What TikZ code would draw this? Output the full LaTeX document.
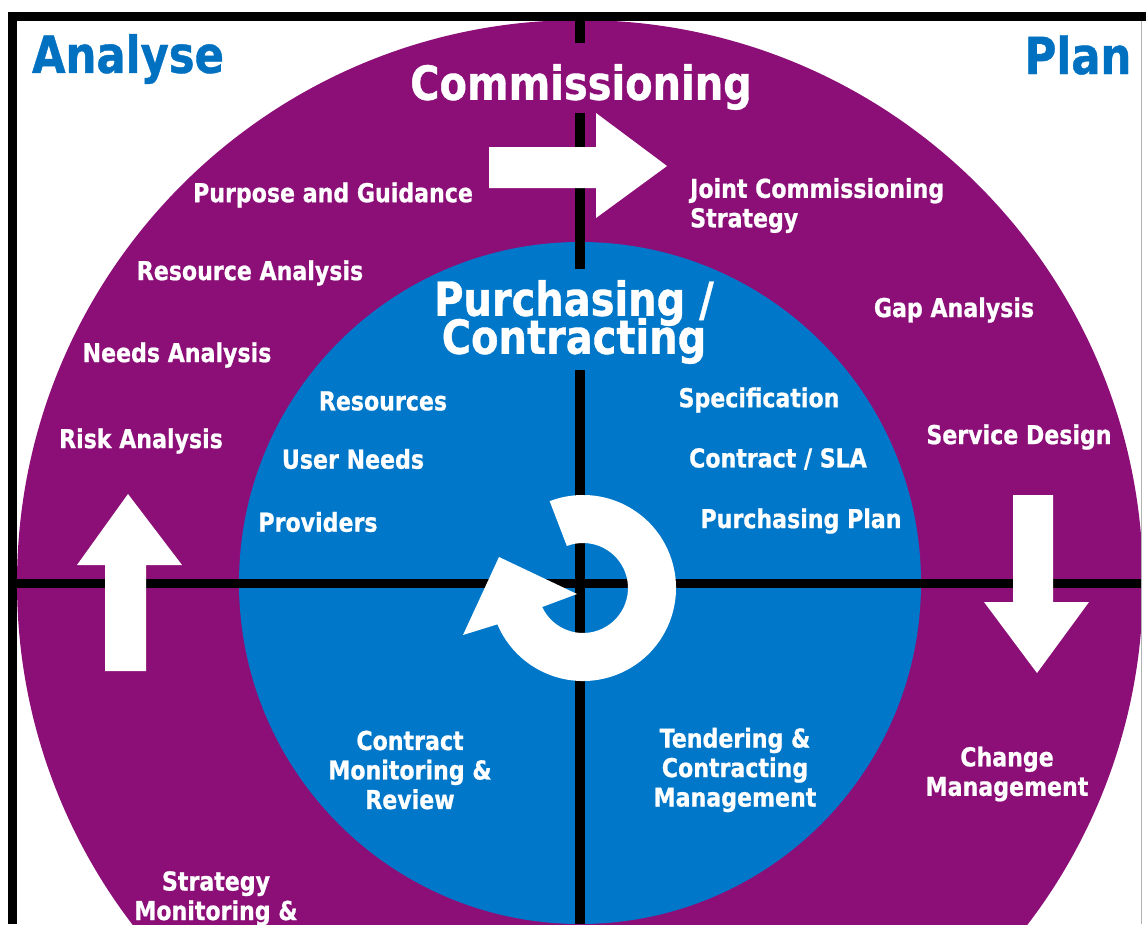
\documentclass[tikz,border=0pt]{standalone}
\usepackage{fontspec}
\newfontfamily\tfont{DejaVu Sans}[FakeStretch=0.85, FakeBold=0.8]
\usetikzlibrary{calc}
\definecolor{cpurple}{RGB}{140,15,120}
\definecolor{cblue}{RGB}{0,119,200}
\definecolor{tblue}{RGB}{0,112,192}
\tikzset{
  wt/.style={text=white, font=\tfont\bfseries\fontsize{26}{29.5}\selectfont, align=center, inner sep=0pt},
  big/.style={text=white, font={\tfont\bfseries\fontsize{47}{38}\selectfont\lineskiplimit=-200pt}, align=center, inner sep=0pt},
  corner/.style={text=tblue, font=\tfont\bfseries\fontsize{51}{55}\selectfont, inner sep=0pt},
  crossline/.style={line width=9.5pt, black},
  bigarrow/.style={fill=white}
}
\begin{document}
\begin{tikzpicture}[x=1pt,y=-1pt]
\useasboundingbox (0,0) rectangle (1146,924);
\begin{scope}
\clip (17,21) rectangle (1141,924);
\fill[cpurple] (580,583) circle[radius=563];
\fill[cblue] (580,583) circle[radius=341];
\draw[crossline] (580,21) -- (580,43);
\draw[crossline] (580,113) -- (580,269);
\draw[crossline] (580,370) -- (580,924);
\draw[crossline] (17,583.5) -- (1141,583.5);
% arrows
\fill[bigarrow] (489,147) -- (596,147) -- (596,113) -- (667,166) -- (596,218) -- (596,188) -- (489,188) -- cycle;
\fill[bigarrow] (105,671) -- (105,565) -- (77,565) -- (128,494) -- (182,565) -- (146,565) -- (146,671) -- cycle;
\fill[bigarrow] (1013,495) -- (1053,495) -- (1053,602) -- (1089,602) -- (1037,673) -- (984,602) -- (1013,602) -- cycle;
\fill[bigarrow] ($(583,588)+(-111:93)$) arc[start angle=-111, end angle=157, radius=93]
  -- (463,635) -- (499,557) -- (577,594) -- ($(583,588)+(155:45)$)
  arc[start angle=155, end angle=-111, radius=45] -- cycle;
\end{scope}
% frame
\draw[line width=9pt, line join=miter] (12.5,924) -- (12.5,16.5) -- (1146,16.5);
\draw[gray!60, line width=1.2pt] (1141.5,21) -- (1141.5,924);
% texts
\node[corner] (analyse) at (128,59) {Analyse};
\node[corner] (plan) at (1078,55) {Plan};
\node[big] (comm) at (581,87) {Commissioning};
\node[big] (purch) at (574,322) {Purchasing /\\Contracting};
\node[wt] (pg) at (333,195) {Purpose and Guidance};
\node[wt, align=left, anchor=west] (jcs) at (690,205.5) {Joint Commissioning\\Strategy};
\node[wt] (ra) at (250,273) {Resource Analysis};
\node[wt] (gap) at (954,310) {Gap Analysis};
\node[wt] (na) at (177,355) {Needs Analysis};
\node[wt] (risk) at (141,441) {Risk Analysis};
\node[wt] (sd) at (1019,437) {Service Design};
\node[wt] (res) at (383,401) {Resources};
\node[wt] (un) at (353,459) {User Needs};
\node[wt] (prov) at (318,522) {Providers};
\node[wt] (spec) at (759,400) {Specification};
\node[wt] (csla) at (778,459) {Contract / SLA};
\node[wt] (pp) at (801,521) {Purchasing Plan};
\node[wt] (cmr) at (410,770) {Contract\\Monitoring \&\\Review};
\node[wt] (tcm) at (735,770) {Tendering \&\\Contracting\\Management};
\node[wt] (cm) at (1007,774) {Change\\Management};
\node[wt, anchor=north] (smr) at (216,871) {Strategy\\Monitoring \&};
\end{tikzpicture}
\end{document}
